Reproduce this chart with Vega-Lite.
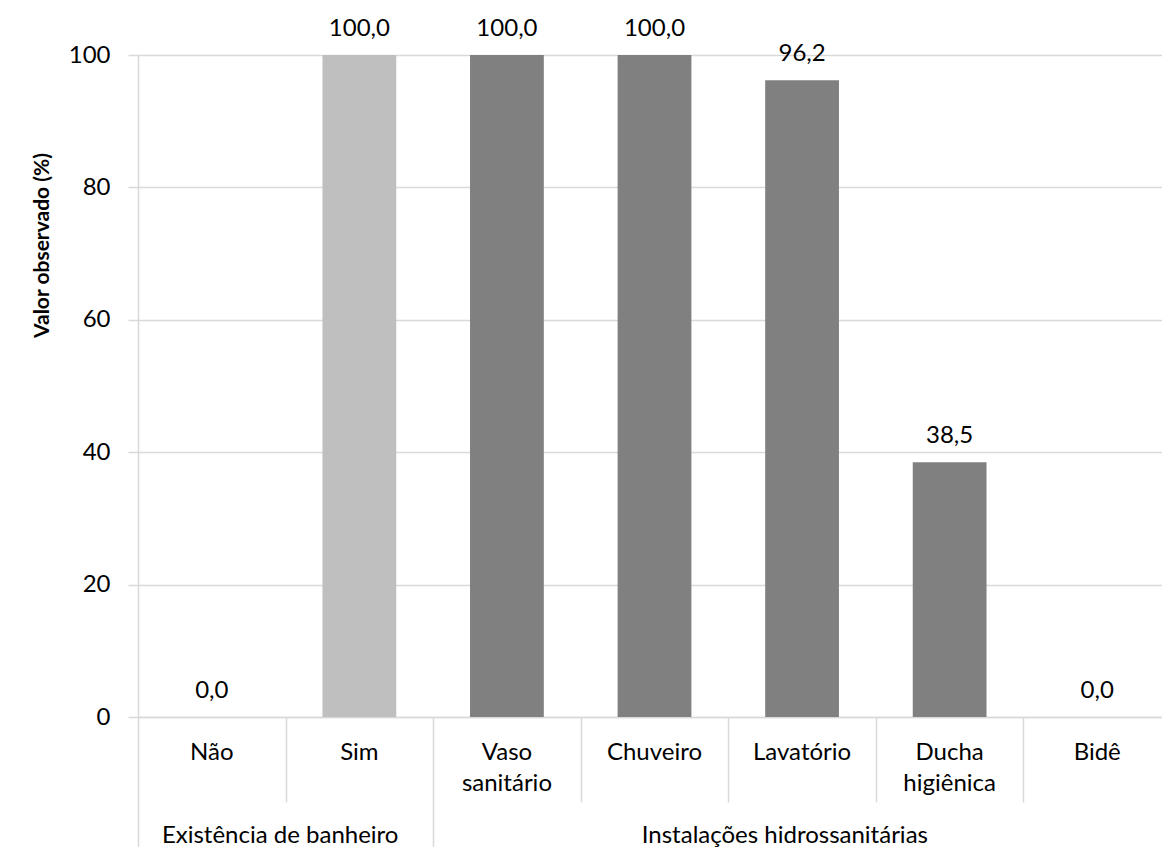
{
  "$schema": "https://vega.github.io/schema/vega-lite/v6.json",
  "autosize": {"type": "none"},
  "padding": {"left": 138, "top": 55, "right": 0, "bottom": 130},
  "width": 1024,
  "height": 662,
  "config": {
    "view": {"stroke": null},
    "font": "Lato",
    "locale": {"number": {"decimal": ",", "thousands": ".", "grouping": [3], "currency": ["R$", ""]}},
    "axis": {"labelFont": "Lato", "titleFont": "Lato", "labelColor": "#000", "titleColor": "#000"}
  },
  "layer": [
    {
      "data": {"values": [
        {"categoria": "Não", "grupo": "Existência de banheiro", "valor": 0.0},
        {"categoria": "Sim", "grupo": "Existência de banheiro", "valor": 100.0},
        {"categoria": "Vaso sanitário", "grupo": "Instalações hidrossanitárias", "valor": 100.0},
        {"categoria": "Chuveiro", "grupo": "Instalações hidrossanitárias", "valor": 100.0},
        {"categoria": "Lavatório", "grupo": "Instalações hidrossanitárias", "valor": 96.2},
        {"categoria": "Ducha higiênica", "grupo": "Instalações hidrossanitárias", "valor": 38.5},
        {"categoria": "Bidê", "grupo": "Instalações hidrossanitárias", "valor": 0.0}
      ]},
      "layer": [
        {
          "mark": {"type": "bar"},
          "encoding": {
            "x": {
              "field": "categoria", "type": "nominal", "sort": null,
              "scale": {"range": [0, 1033], "paddingInner": 0.5, "paddingOuter": 0.25},
              "axis": {
                "title": null, "orient": "bottom", "ticks": false,
                "domainColor": "#d9d9d9", "domainWidth": 1.5,
                "labelAngle": 0, "labelFontSize": 24, "labelPadding": 23, "labelLineHeight": 31,
                "labelOverlap": false, "labelBound": false, "labelBaseline": "top", "labelLimit": 0,
                "labelExpr": "datum.label == 'Vaso sanitário' ? ['Vaso', 'sanitário'] : datum.label == 'Ducha higiênica' ? ['Ducha', 'higiênica'] : datum.label"
              }
            },
            "y": {
              "field": "valor", "type": "quantitative",
              "scale": {"domain": [0, 100], "nice": false},
              "axis": {
                "title": "Valor observado (%)", "titleFontSize": 21, "titleFontWeight": "bold",
                "titleX": -96, "titleY": 190, "titleAlign": "center", "titleBaseline": "middle", "titleAngle": -90,
                "values": [0, 20, 40, 60, 80, 100], "labelFontSize": 24, "labelPadding": 18,
                "tickSize": 10, "tickColor": "#d9d9d9", "tickWidth": 1.5,
                "domainColor": "#d9d9d9", "domainWidth": 1.5,
                "grid": true, "gridColor": "#d9d9d9", "gridWidth": 1.5
              }
            },
            "color": {
              "field": "grupo", "type": "nominal", "legend": null,
              "scale": {"domain": ["Existência de banheiro", "Instalações hidrossanitárias"], "range": ["#bfbfbf", "#808080"]}
            }
          }
        },
        {
          "mark": {"type": "text", "baseline": "alphabetic", "dy": -19, "fontSize": 24, "font": "Lato", "color": "#000"},
          "encoding": {
            "x": {"field": "categoria", "type": "nominal", "sort": null},
            "y": {"field": "valor", "type": "quantitative"},
            "text": {"field": "valor", "type": "quantitative", "format": ".1f"}
          }
        }
      ]
    },
    {
      "data": {"values": [
        {"pos": 0, "rotulo": ""},
        {"pos": 0.96, "rotulo": "Existência de banheiro"},
        {"pos": 2, "rotulo": ""},
        {"pos": 4.38, "rotulo": "Instalações hidrossanitárias"}
      ]},
      "mark": {"type": "point", "opacity": 0},
      "encoding": {
        "x": {
          "field": "pos", "type": "quantitative",
          "scale": {"domain": [0, 7], "range": [0, 1033], "nice": false, "zero": false},
          "axis": {
            "title": null, "orient": "bottom", "grid": false, "domain": false,
            "values": [0, 0.96, 2, 4.38],
            "tickSize": 130, "tickColor": "#d9d9d9", "tickWidth": 1.5,
            "tickOpacity": {"condition": {"test": "datum.value == 0 || datum.value == 2", "value": 1}, "value": 0},
            "labelFontSize": 24, "labelPadding": -24, "labelBaseline": "top", "labelBound": false, "labelOverlap": false, "labelFlush": false, "labelLimit": 0,
            "labelExpr": "datum.value == 0.96 ? 'Existência de banheiro' : datum.value == 4.38 ? 'Instalações hidrossanitárias' : ''"
          }
        }
      }
    },
    {
      "data": {"values": [
        {"divisa": 1}, {"divisa": 3}, {"divisa": 4}, {"divisa": 5}, {"divisa": 6}
      ]},
      "mark": {"type": "point", "opacity": 0},
      "encoding": {
        "x": {
          "field": "divisa", "type": "quantitative",
          "scale": {"domain": [0, 7], "range": [0, 1033], "nice": false, "zero": false},
          "axis": {
            "title": null, "orient": "bottom", "grid": false, "domain": false, "labels": false,
            "values": [1, 3, 4, 5, 6],
            "tickSize": 85, "tickColor": "#d9d9d9", "tickWidth": 1.5
          }
        }
      }
    }
  ],
  "resolve": {"scale": {"x": "independent"}}
}
